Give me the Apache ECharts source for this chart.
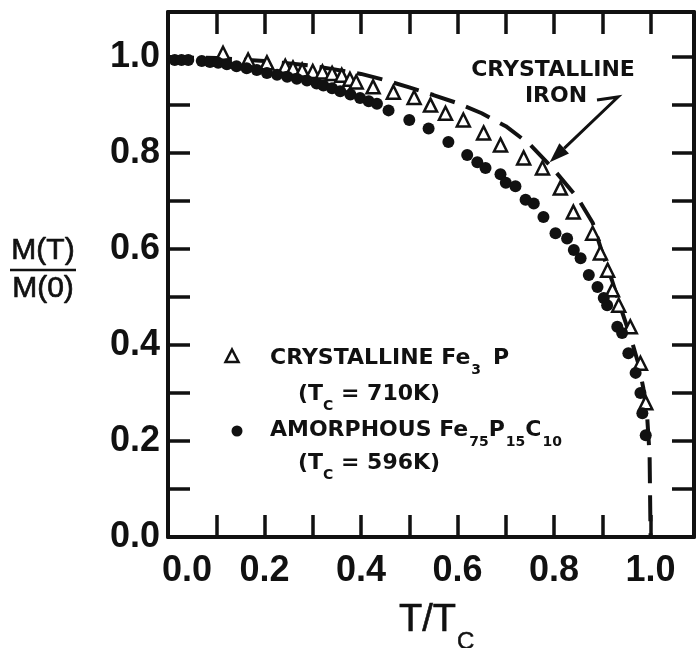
<!DOCTYPE html>
<html>
<head>
<meta charset="utf-8">
<script src="https://cdn.jsdelivr.net/npm/echarts@6/dist/echarts.min.js"></script>
<style>
  html, body { margin: 0; padding: 0; background: #fff; }
  #chart { width: 696px; height: 648px; }
</style>
</head>
<body>
<div id="chart"></div>
<script>
// Reduced temperature T/Tc and reduced magnetization M(T)/M(0)

// Crystalline Fe3P (Tc = 710 K) - open triangles
const T_FE3P = [0.114, 0.166, 0.205, 0.243, 0.259, 0.278, 0.300, 0.320, 0.340, 0.360, 0.377, 0.390,
  0.425, 0.467, 0.510, 0.544, 0.575, 0.612, 0.654, 0.689, 0.737, 0.776, 0.813, 0.840, 0.880,
  0.896, 0.911, 0.921, 0.934, 0.958, 0.979, 0.990];
const M_FE3P = [1.008, 0.994, 0.988, 0.981, 0.977, 0.973, 0.970, 0.969, 0.966, 0.962, 0.954, 0.948,
  0.938, 0.927, 0.916, 0.900, 0.883, 0.869, 0.842, 0.817, 0.790, 0.769, 0.727, 0.677, 0.633,
  0.592, 0.556, 0.515, 0.483, 0.438, 0.362, 0.280];

// Amorphous Fe75P15C10 (Tc = 596 K) - filled circles
const T_AMOR = [0.014, 0.028, 0.042, 0.070, 0.087, 0.104, 0.122, 0.142, 0.163, 0.184, 0.205, 0.226,
  0.247, 0.267, 0.288, 0.308, 0.322, 0.340, 0.357, 0.378, 0.398, 0.416, 0.433, 0.457, 0.500,
  0.540, 0.581, 0.620, 0.641, 0.658, 0.689, 0.700, 0.720, 0.741, 0.758, 0.778, 0.803, 0.827,
  0.841, 0.855, 0.872, 0.890, 0.903, 0.910, 0.931, 0.941, 0.954, 0.969, 0.979, 0.983, 0.990];
const M_AMOR = [0.994, 0.994, 0.994, 0.992, 0.990, 0.988, 0.985, 0.981, 0.977, 0.973, 0.967, 0.963,
  0.959, 0.955, 0.951, 0.945, 0.941, 0.935, 0.929, 0.922, 0.915, 0.908, 0.903, 0.889, 0.869,
  0.851, 0.823, 0.796, 0.781, 0.769, 0.756, 0.738, 0.731, 0.703, 0.695, 0.667, 0.633, 0.622,
  0.598, 0.581, 0.546, 0.521, 0.498, 0.483, 0.438, 0.425, 0.383, 0.342, 0.300, 0.258, 0.212];

// Crystalline iron reference curve - dashed
const T_IRON = [0.00, 0.10, 0.20, 0.30, 0.40, 0.45, 0.50, 0.55, 0.60, 0.65, 0.70, 0.75, 0.80,
  0.85, 0.88, 0.90, 0.92, 0.94, 0.96, 0.975, 0.985, 0.993, 0.998, 1.000];
const M_IRON = [1.000, 0.998, 0.992, 0.982, 0.965, 0.952, 0.937, 0.921, 0.904, 0.883, 0.856, 0.818,
  0.765, 0.705, 0.655, 0.592, 0.535, 0.472, 0.412, 0.360, 0.310, 0.250, 0.170, 0.000];

// Axis tick labels (every 0.2) with minor ticks every 0.1
const TICK_LABELS = ['0.0', '0.2', '0.4', '0.6', '0.8', '1.0'];

const INK = '#111';
const LABEL_FONT = 'Liberation Sans';
const NOTE_FONT = 'DejaVu Sans';

const pairs = (xs, ys) => xs.map((x, i) => [x, ys[i]]);

function tickIndex(v) {
  const k = Math.round(v * 5);
  return Math.abs(v * 5 - k) > 1e-6 ? -1 : k;
}

function frameAxis(pos, isX, labelled) {
  const labelStyle = { color: INK, fontFamily: LABEL_FONT, fontWeight: 'bold', fontSize: 36 };
  return {
    type: 'value',
    position: pos,
    min: 0,
    max: isX ? 1.09 : 1.094,
    interval: 0.1,
    axisLine: { show: true, onZero: false, lineStyle: { color: INK, width: 4 } },
    axisTick: { show: true, inside: true, length: 22, lineStyle: { color: INK, width: 3.5 } },
    splitLine: { show: false },
    axisLabel: Object.assign({
      show: labelled,
      // the x-axis zero label sits a little right of the corner
      formatter: v => {
        const k = tickIndex(v);
        if (k < 0 || !TICK_LABELS[k]) return '';
        return (isX && k === 0) ? '{z|' + TICK_LABELS[k] + '}' : TICK_LABELS[k];
      },
      rich: { z: Object.assign({ padding: [0, 0, 0, 38] }, labelStyle) },
      margin: isX ? 16 : 8,
      showMinLabel: true,
      showMaxLabel: false
    }, labelStyle)
  };
}

const chart = echarts.init(document.getElementById('chart'), null, { renderer: 'canvas' });

chart.setOption({
  animation: false,
  backgroundColor: '#fff',
  grid: { left: 168, top: 12, width: 526, height: 525, containLabel: false },
  xAxis: [frameAxis('bottom', true, true), frameAxis('top', true, false)],
  yAxis: [frameAxis('left', false, true), frameAxis('right', false, false)],
  series: [
    {
      name: 'CRYSTALLINE IRON',
      type: 'line',
      data: pairs(T_IRON, M_IRON),
      showSymbol: false,
      smooth: false,
      lineStyle: { color: INK, width: 4, type: [26, 12] },
      z: 1
    },
    {
      name: 'CRYSTALLINE Fe3 P',
      type: 'scatter',
      data: pairs(T_FE3P, M_FE3P),
      symbol: 'triangle',
      symbolSize: 13,
      itemStyle: { color: '#fff', borderColor: INK, borderWidth: 2.5, opacity: 1 },
      z: 3
    },
    {
      name: 'AMORPHOUS Fe75P15C10',
      type: 'scatter',
      data: pairs(T_AMOR, M_AMOR),
      symbol: 'circle',
      symbolSize: 12,
      itemStyle: { color: INK, opacity: 1 },
      z: 4
    }
  ]
});

// ---- text annotations, legend and axis titles ----
const measureCtx = document.createElement('canvas').getContext('2d');
function textWidth(t, font) { measureCtx.font = font; return measureCtx.measureText(t).width; }

function txt(x, y, t, font, align, heavy) {
  const style = {
    text: t, font: font, fill: INK,
    align: align || 'left', verticalAlign: 'middle',
    textAlign: align || 'left', textVerticalAlign: 'middle'
  };
  if (heavy) { style.stroke = INK; style.lineWidth = heavy; }
  return { type: 'text', x: x, y: y, silent: true, style: style };
}

// a line of text with subscript fragments
function textRow(x, y, parts, size, subSize, weight, family, subDrop) {
  const out = [];
  let cx = x;
  parts.forEach(p => {
    const fs = p.sub ? subSize : size;
    const font = `${weight} ${fs}px "${family}"`;
    out.push(txt(cx + (p.gap || 0), p.sub ? y + subDrop : y, p.t, font));
    cx += textWidth(p.t, font) + (p.gap || 0);
  });
  return out;
}

const px = (t, m) => chart.convertToPixel({ xAxisIndex: 0, yAxisIndex: 0 }, [t, m]);

const g = [];

// legend
const legTri = [232, 356];
g.push({
  type: 'polygon', silent: true,
  shape: { points: [[legTri[0], legTri[1] - 6.5], [legTri[0] + 6.5, legTri[1] + 6], [legTri[0] - 6.5, legTri[1] + 6]] },
  style: { fill: '#fff', stroke: INK, lineWidth: 2.5 }
});
g.push(...textRow(270, 358, [{ t: 'CRYSTALLINE Fe' }, { t: '3', sub: true, gap: 1 }, { t: 'P', gap: 12 }], 22, 14, 'bold', NOTE_FONT, 12));
g.push(...textRow(298, 394, [{ t: '(T' }, { t: 'C', sub: true }, { t: ' = 710K)' }], 22, 14, 'bold', NOTE_FONT, 12));
g.push({ type: 'circle', silent: true, shape: { cx: 237, cy: 431, r: 5.5 }, style: { fill: INK } });
g.push(...textRow(270, 430, [{ t: 'AMORPHOUS Fe' }, { t: '75', sub: true, gap: 1 }, { t: 'P' }, { t: '15', sub: true, gap: 1 }, { t: 'C' }, { t: '10', sub: true, gap: 1 }], 22, 14, 'bold', NOTE_FONT, 12));
g.push(...textRow(298, 463, [{ t: '(T' }, { t: 'C', sub: true }, { t: ' = 596K)' }], 22, 14, 'bold', NOTE_FONT, 12));

// crystalline iron label with arrow
g.push(txt(553, 70, 'CRYSTALLINE', `bold 22px "${NOTE_FONT}"`, 'center'));
g.push(txt(556, 96, 'IRON', `bold 22px "${NOTE_FONT}"`, 'center'));
const a0 = [597, 100], a1 = [618, 97];
const tip = px(0.791, 0.781);
const dx = tip[0] - a1[0], dy = tip[1] - a1[1];
const len = Math.hypot(dx, dy), ux = dx / len, uy = dy / len;
const headLen = 20, headW = 7;
const base = [tip[0] - ux * headLen, tip[1] - uy * headLen];
g.push({
  type: 'polyline', silent: true,
  shape: { points: [a0, a1, base] },
  style: { stroke: INK, lineWidth: 3, fill: null }
});
g.push({
  type: 'polygon', silent: true,
  shape: { points: [tip, [base[0] - uy * headW, base[1] + ux * headW], [base[0] + uy * headW, base[1] - ux * headW]] },
  style: { fill: INK }
});

// x axis title T/Tc
const titleFont = `38px "${LABEL_FONT}"`;
g.push(txt(399, 621, 'T/T', titleFont, 'left', 0.6));
g.push(txt(399 + textWidth('T/T', titleFont) + 1, 642, 'C', `24px "${LABEL_FONT}"`, 'left', 0.5));

// y axis title M(T)/M(0)
g.push(txt(43, 251, 'M(T)', `30px "${LABEL_FONT}"`, 'center', 0.7));
g.push({ type: 'line', silent: true, shape: { x1: 10, y1: 270, x2: 76, y2: 270 }, style: { stroke: INK, lineWidth: 2.5 } });
g.push(txt(43, 289, 'M(0)', `30px "${LABEL_FONT}"`, 'center', 0.7));

chart.setOption({ graphic: { elements: g } });
</script>
</body>
</html>
